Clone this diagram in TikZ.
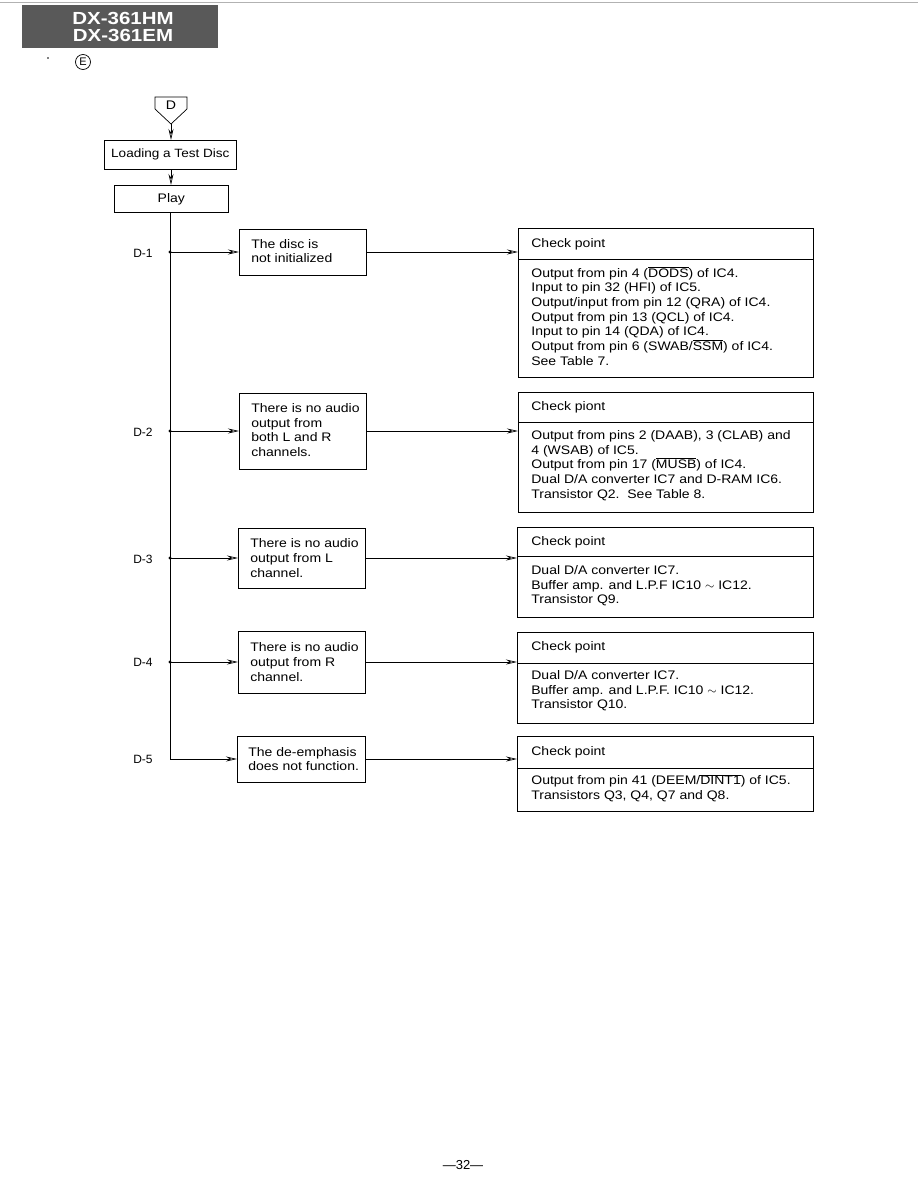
\documentclass[tikz,border=0pt]{standalone}
\usepackage{fontspec}
\setmainfont{Liberation Sans}
\newfontfamily\widefont[FakeStretch=1.13]{Liberation Sans}
\newfontfamily\hdrfont[FakeStretch=1.17]{Liberation Sans}
\usetikzlibrary{arrows.meta,positioning}
\newcommand\ovl[1]{$\overline{\hbox{#1}}$}
\begin{document}
\begin{tikzpicture}[x=1pt,y=-1pt,
  line width=0.7pt,
  arr/.style={-{Stealth[open,length=11pt,width=5pt]}},
  box/.style={draw,rectangle,anchor=north west,inner sep=0pt},
  txt/.style={anchor=west,align=left,font=\widefont\fontsize{12.4}{14.7}\selectfont,inner sep=0pt},
  lab/.style={font=\fontsize{12}{14}\selectfont,inner sep=0pt},
  hdr/.style={font=\hdrfont\fontsize{17.5}{18}\selectfont\bfseries,text=white,inner sep=0pt}]
\useasboundingbox (0,0) rectangle (918,1188);
% header
\draw[gray!60,line width=0.5pt] (0,2) -- (918,2);
\node[fill=black!65,anchor=north west,minimum width=196pt,minimum height=43pt,inner sep=0pt] (hdrbox) at (22,5) {};
\node[hdr,anchor=base] (h1) at (123,25) {DX-361HM};
\node[hdr,anchor=base] (h2) at (123,42) {DX-361EM};
\node[draw,circle,inner sep=0pt,minimum size=15pt,font=\fontsize{11}{11}\selectfont] (circE) at (83,62) {E};
\fill (48,58) circle (0.8pt);
% D connector
\draw (155,97) -- (187,97) -- (187,109) -- (171,124) -- (155,109) -- cycle;
\node[lab,font=\widefont\fontsize{12.5}{14}\selectfont] (dtext) at (171,105) {D};
\coordinate (dtip) at (171,124);
% Loading / Play
\node[box,minimum width=132pt,minimum height=29pt] (load) at (104,140) {};
\node[lab,font=\widefont\fontsize{12}{14}\selectfont] at (load.center) {Loading a Test Disc};
\node[box,minimum width=114pt,minimum height=27pt] (play) at (114,185) {};
\node[lab,font=\widefont\fontsize{12.4}{14}\selectfont] at (play.center) {Play};
\draw[arr] (dtip) -- (load.north -| dtip);
\draw[arr] (load.south -| dtip) -- (play.north -| dtip);
% trunk
\coordinate (d1) at (170,252);
\coordinate (d2) at (170,431);
\coordinate (d3) at (170,558);
\coordinate (d4) at (170,662);
\coordinate (d5) at (170,759);
\draw (play.south -| d1) -- (d5);
\foreach \i in {1,2,3,4}{\fill (d\i) circle (1.6pt);}
\node[lab] (l1) at (143,253) {D-1};
\node[lab] (l2) at (143,432) {D-2};
\node[lab] (l3) at (143,559) {D-3};
\node[lab] (l4) at (143,662) {D-4};
\node[lab] (l5) at (143,759) {D-5};
% symptom boxes
\node[box,minimum width=127pt,minimum height=46pt] (b1) at (239,229) {};
\node[txt] at (251,251) {The disc is\\not initialized};
\node[box,minimum width=127pt,minimum height=76pt] (b2) at (239,393) {};
\node[txt] at (251,430) {There is no audio\\output from\\both L and R\\channels.};
\node[box,minimum width=127pt,minimum height=60pt] (b3) at (238,528) {};
\node[txt] at (250,558) {There is no audio\\output from L\\channel.};
\node[box,minimum width=127pt,minimum height=62pt] (b4) at (238,631) {};
\node[txt] at (250,662) {There is no audio\\output from R\\channel.};
\node[box,minimum width=128pt,minimum height=46pt] (b5) at (237,736) {};
\node[txt] at (248,759) {The de-emphasis\\does not function.};
\foreach \i in {1,...,5}{\draw[arr] (d\i) -- (d\i -| b\i.west);}
% check boxes
\node[box,minimum width=295pt,minimum height=149pt] (c1) at (518,228) {};
\draw (518,259) -- (813,259);
\node[txt] at (531,244) {Check point};
\node[txt,anchor=north west] at (531,266) {Output from pin 4 (\ovl{DODS}) of IC4.\\Input to pin 32 (HFI) of IC5.\\Output/input from pin 12 (QRA) of IC4.\\Output from pin 13 (QCL) of IC4.\\Input to pin 14 (QDA) of IC4.\\Output from pin 6 (SWAB/\ovl{SSM}) of IC4.\\See Table 7.};
\node[box,minimum width=295pt,minimum height=120pt] (c2) at (518,392) {};
\draw (518,422) -- (813,422);
\node[txt] at (531,407) {Check piont};
\node[txt,anchor=north west] at (531,430) {Output from pins 2 (DAAB), 3 (CLAB) and\\4 (WSAB) of IC5.\\Output from pin 17 (\ovl{MUSB}) of IC4.\\Dual D/A converter IC7 and D-RAM IC6.\\Transistor Q2.\ \ See Table 8.};
\node[box,minimum width=296pt,minimum height=90pt] (c3) at (517,527) {};
\draw (517,556) -- (813,556);
\node[txt] at (531,542) {Check point};
\node[txt,anchor=north west] at (531,565) {Dual D/A converter IC7.\\Buffer amp. and L.P.F IC10 $\sim$ IC12.\\Transistor Q9.};
\node[box,minimum width=296pt,minimum height=91pt] (c4) at (517,632) {};
\draw (517,663) -- (813,663);
\node[txt] at (531,647) {Check point};
\node[txt,anchor=north west] at (531,670) {Dual D/A converter IC7.\\Buffer amp. and L.P.F. IC10 $\sim$ IC12.\\Transistor Q10.};
\node[box,minimum width=296pt,minimum height=75pt] (c5) at (517,736) {};
\draw (517,768) -- (813,768);
\node[txt] at (531,752) {Check point};
\node[txt,anchor=north west] at (531,774) {Output from pin 41 (DEEM/\ovl{DINT1}) of IC5.\\Transistors Q3, Q4, Q7 and Q8.};
\foreach \i in {1,...,5}{\draw[arr] (b\i.east |- d\i) -- (c\i.west |- d\i);}
% page number
\node[lab,font=\fontsize{13}{14}\selectfont] (pg) at (463,1165) {---32---};
\end{tikzpicture}
\end{document}
